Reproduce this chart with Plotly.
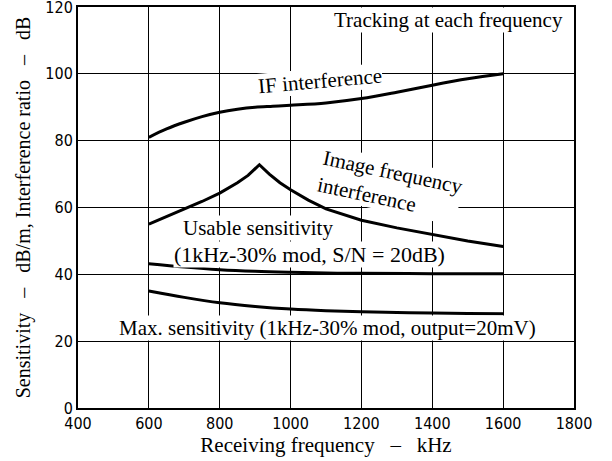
import plotly.graph_objects as go

# Data
if_freq = [600, 650, 700, 750, 800, 850, 900, 950, 1000, 1100, 1200, 1300, 1400, 1500, 1600]
if_vals = [81.0, 83.5, 85.5, 87.2, 88.5, 89.4, 90.0, 90.3, 90.6, 91.3, 92.6, 94.5, 96.6, 98.5, 100.0]

img_freq = [600, 650, 700, 750, 800, 850, 880, 912, 940, 970, 1000, 1050, 1100, 1200, 1300, 1400, 1500, 1600]
img_vals = [55.0, 57.2, 59.6, 61.8, 64.3, 67.4, 69.6, 72.8, 70.0, 67.4, 65.3, 62.2, 59.6, 56.2, 53.9, 51.9, 50.0, 48.3]

use_freq = [600, 700, 800, 900, 1000, 1100, 1200, 1400, 1600]
use_vals = [43.2, 42.2, 41.4, 40.9, 40.6, 40.4, 40.3, 40.2, 40.2]

max_freq = [600, 700, 800, 900, 1000, 1100, 1200, 1300, 1400, 1500, 1600]
max_vals = [35.0, 33.1, 31.5, 30.4, 29.6, 29.1, 28.8, 28.6, 28.4, 28.3, 28.2]

x_ticks = [400, 600, 800, 1000, 1200, 1400, 1600, 1800]
y_ticks = [0, 20, 40, 60, 80, 100, 120]

SERIF = "Liberation Serif, Times New Roman, serif"
SANS = "DejaVu Sans Condensed, DejaVu Sans, sans-serif"

fig = go.Figure()
series = [(if_freq, if_vals, "spline"), (img_freq, img_vals, "linear"),
          (use_freq, use_vals, "spline"), (max_freq, max_vals, "spline")]
for xs, ys, shp in series:
    fig.add_trace(go.Scatter(x=xs, y=ys, mode="lines",
                             line=dict(color="black", width=3, shape=shp),
                             showlegend=False, hoverinfo="skip"))

ann = [
    dict(x=1772, y=116.2, text="Tracking at each frequency", xanchor="right", textangle=0, size=21, align="right"),
    dict(x=1082, y=97.8, text="IF interference", xanchor="center", textangle=-5, size=21, align="center"),
    dict(x=1282, y=66.6, text="Image frequency<br>interference", xanchor="center", textangle=12, size=21, align="left"),
    dict(x=908, y=54.0, text="Usable sensitivity", xanchor="center", textangle=0, size=21, align="center"),
    dict(x=1053, y=45.8, text="(1kHz-30% mod, S/N = 20dB)", xanchor="center", textangle=0, size=22, align="center"),
    dict(x=1104, y=23.9, text="Max. sensitivity (1kHz-30% mod, output=20mV)", xanchor="center", textangle=0, size=21, align="center"),
]
for a in ann:
    fig.add_annotation(x=a["x"], y=a["y"], text=a["text"], xref="x", yref="y", showarrow=False,
                       xanchor=a["xanchor"], yanchor="middle", textangle=a["textangle"], align=a["align"],
                       font=dict(family=SERIF, size=a["size"], color="black"), bgcolor="white", borderpad=0)

fig.update_layout(
    template="none",
    width=612, height=461,
    margin=dict(l=78, r=38, t=7, b=53, autoexpand=False),
    paper_bgcolor="white", plot_bgcolor="white",
    xaxis=dict(range=[400, 1800], tickmode="linear", tick0=x_ticks[0], dtick=x_ticks[1] - x_ticks[0],
               showgrid=True, gridcolor="black", gridwidth=1, zeroline=False, automargin=False,
               showline=True, linecolor="black", linewidth=2, mirror=True, ticks="",
               ticklabeloverflow="allow",
               tickfont=dict(family=SANS, size=16, color="black"),
               title=dict(text="Receiving frequency   –   kHz", font=dict(family=SERIF, size=21, color="black"), standoff=2)),
    yaxis=dict(range=[0, 120], tickmode="linear", tick0=y_ticks[0], dtick=y_ticks[1] - y_ticks[0],
               showgrid=True, gridcolor="black", gridwidth=1, zeroline=False, automargin=False,
               showline=True, linecolor="black", linewidth=2, mirror=True, ticks="",
               ticklabeloverflow="allow",
               tickfont=dict(family=SANS, size=16, color="black"),
               title=dict(text="Sensitivity   –   dB/m, Interference ratio   –   dB", font=dict(family=SERIF, size=20, color="black"), standoff=9)),
)

fig.write_html("out.html", config={"displayModeBar": False},
               post_script="document.body.style.margin='0';document.body.style.padding='0';")
